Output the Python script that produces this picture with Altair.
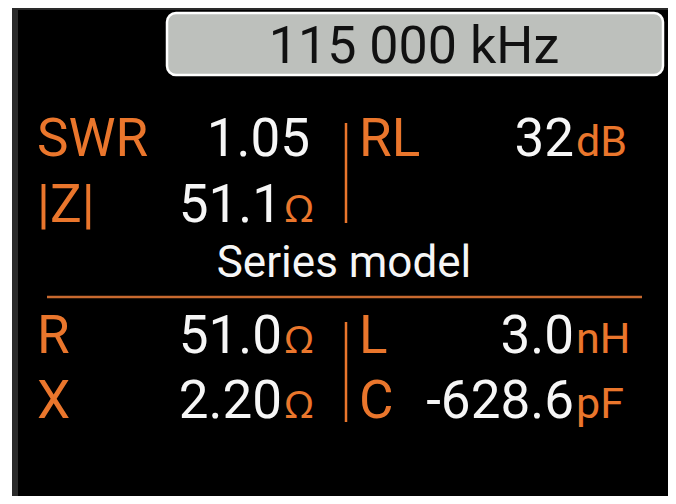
import altair as alt
import pandas as pd

freq_text = ["115 000 kHz"]
section_title = ["Series model"]
left_labels = ["SWR", "|Z|", "R", "X"]
left_values = ["1.05", "51.1", "51.0", "2.20"]
left_units = ["", "Ω", "Ω", "Ω"]
right_labels = ["RL", "", "L", "C"]
right_values = ["32", "", "3.0", "-628.6"]
right_units = ["dB", "", "nH", "pF"]

# ---- style ----
FONT = "Roboto"
ORANGE = "#ea762c"
LINE = "#c8692f"
WHITE = "#f6f6f6"
FRAME = "#2a2a2a"

readings = pd.DataFrame({
    "row": left_labels,
    "label_l": left_labels,
    "value_l": left_values,
    "unit_l": left_units,
    "label_r": right_labels,
    "value_r": right_values,
    "unit_r": right_units,
})
section = pd.DataFrame({"row": section_title, "text": section_title})
freq = pd.DataFrame({"frequency": freq_text})

row_order = left_labels[:2] + section_title + left_labels[2:]
y_enc = alt.Y("row:N", scale=alt.Scale(domain=row_order, range=[148, 410], padding=0), axis=None)

# frame
white_strip = alt.Chart(freq).mark_rect(color="white").encode(
    x=alt.value(0), x2=alt.value(4), y=alt.value(0), y2=alt.value(488))
screen = alt.Chart(freq).mark_rect(color="#000000").encode(
    x=alt.value(10), x2=alt.value(660), y=alt.value(2), y2=alt.value(488))

# frequency box
freq_box = alt.Chart(freq).mark_rect(
    fill="#bdc0bc", stroke="#ffffff", strokeWidth=2.5, cornerRadius=9
).encode(x=alt.value(159), x2=alt.value(655), y=alt.value(5), y2=alt.value(67))
freq_label = alt.Chart(freq).mark_text(
    font=FONT, fontSize=52, color="#111111", align="center", baseline="alphabetic"
).encode(x=alt.value(406), y=alt.value(55), text="frequency:N")

base = alt.Chart(readings)
txt = dict(baseline="alphabetic")
UNIT_SIZE = 43

lab_l = base.mark_text(align="left", font=FONT, fontSize=53, color=ORANGE, **txt).encode(
    x=alt.value(29), y=y_enc, text="label_l:N")
val_l_unit = base.transform_filter("datum.unit_l != ''").mark_text(
    align="right", font=FONT, fontSize=53, color=WHITE, **txt).encode(
    x=alt.value(274), y=y_enc, text="value_l:N")
val_l_plain = base.transform_filter("datum.unit_l == ''").mark_text(
    align="right", font=FONT, fontSize=53, color=WHITE, **txt).encode(
    x=alt.value(302), y=y_enc, text="value_l:N")
unit_l = base.transform_filter("datum.unit_l != ''").mark_text(
    align="left", font="Noto Sans", fontSize=39, color=ORANGE, **txt).encode(
    x=alt.value(277), y=y_enc, text="unit_l:N")

lab_r = base.transform_filter("datum.label_r != ''").mark_text(
    align="left", font=FONT, fontSize=53, color=ORANGE, **txt).encode(
    x=alt.value(351), y=y_enc, text="label_r:N")
val_r = base.transform_filter("datum.value_r != ''").mark_text(
    align="right", font=FONT, fontSize=53, color=WHITE, **txt).encode(
    x=alt.value(566), y=y_enc, text="value_r:N")
unit_r = base.transform_filter("datum.unit_r != ''").mark_text(
    align="left", font=FONT, fontSize=UNIT_SIZE, color=ORANGE, **txt).encode(
    x=alt.value(568), y=y_enc, text="unit_r:N")

title = alt.Chart(section).mark_text(
    align="center", font=FONT, fontSize=44, color=WHITE, dy=-10, **txt).encode(
    x=alt.value(336), y=y_enc, text="text:N")

vrule_top = alt.Chart(freq).mark_rule(color=ORANGE, strokeWidth=2.5).encode(
    x=alt.value(338), y=alt.value(115), y2=alt.value(215))
vrule_bot = alt.Chart(freq).mark_rule(color=ORANGE, strokeWidth=2.5).encode(
    x=alt.value(338), y=alt.value(314), y2=alt.value(414))
hrule = alt.Chart(freq).mark_rule(color=LINE, strokeWidth=2.5).encode(
    x=alt.value(39), x2=alt.value(634), y=alt.value(289))

chart = alt.layer(
    white_strip, screen, freq_box, freq_label,
    lab_l, val_l_unit, val_l_plain, unit_l,
    lab_r, val_r, unit_r, title,
    vrule_top, vrule_bot, hrule,
).properties(
    width=660, height=488, padding=0, autosize="none", background=FRAME
).configure_view(stroke=None)

chart.save("out.html", embed_options={"renderer": "svg", "actions": False})
